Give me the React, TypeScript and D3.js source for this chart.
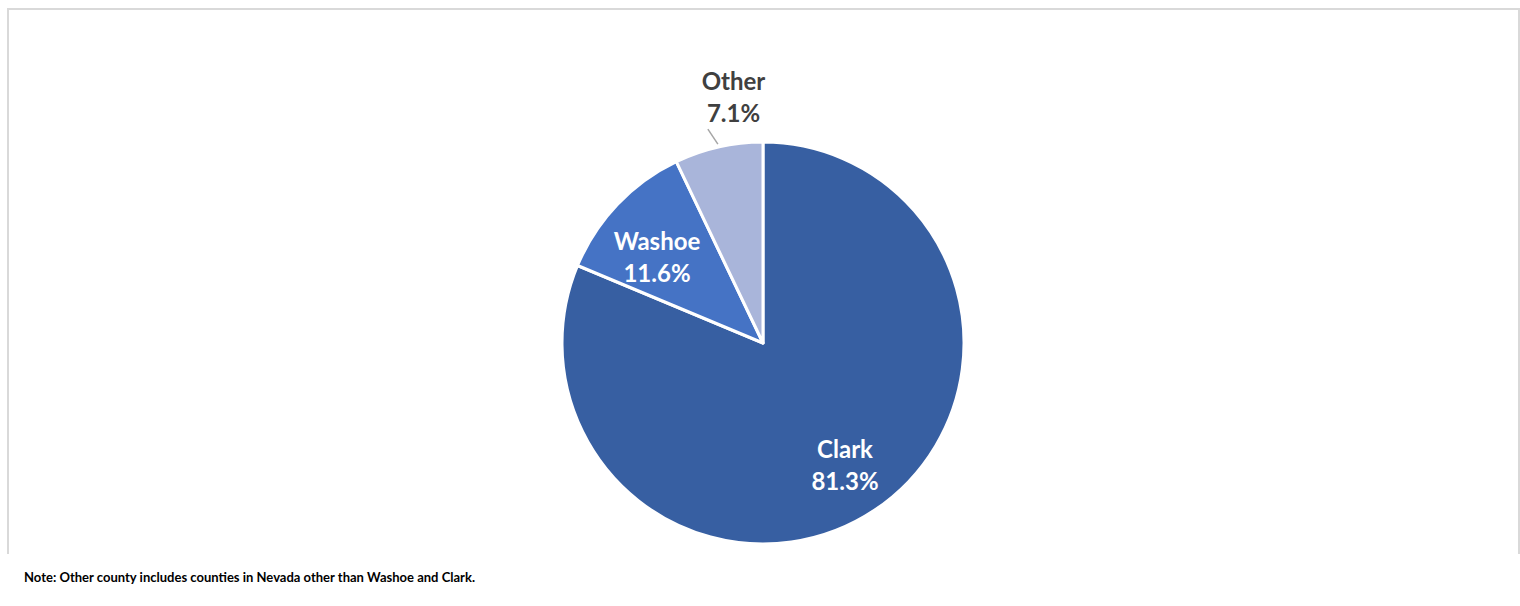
import React from "react";
import * as d3 from "d3";

const categories = ["Clark", "Washoe", "Other"];
const values = [81.3, 11.6, 7.1];
const colors = ["#375fa2", "#4573c5", "#a9b5da"];
const note = "Note: Other county includes counties in Nevada other than Washoe and Clark.";

const W = 1520;
const H = 606;
const cx = 763;
const cy = 343;
const R = 201;

export default function App() {
  const data = categories.map((c, i) => ({ name: c, value: values[i], color: colors[i] }));
  const pie = d3.pie<any>().value((d: any) => d.value).sort(null);
  const arcs = pie(data);
  const arc = d3.arc<any>().innerRadius(0).outerRadius(R);
  const labelR = [148, 138, 251];
  const shift = [[0, 0], [-6, 10], [26, 0]];
  const fmt = (v: number) => v.toFixed(1) + "%";

  return (
    <svg width={W} height={H} style={{ position: "absolute", left: 0, top: 0, background: "#fff" }}>
      <path d={`M8,554 L8,9 L1519,9 L1519,554`} fill="none" stroke="#d9d9d9" strokeWidth={2} />
      <g transform={`translate(${cx},${cy})`}>
        {arcs.map((a, i) => (
          <path key={i} d={arc(a) as string} fill={a.data.color} stroke="#fff" strokeWidth={3} strokeLinejoin="round" />
        ))}
        {arcs.map((a, i) => {
          const mid = (a.startAngle + a.endAngle) / 2;
          const x = Math.sin(mid) * labelR[i] + shift[i][0];
          const y = -Math.cos(mid) * labelR[i] + shift[i][1];
          const outside = i === 2;
          const fill = outside ? "#404040" : "#ffffff";
          const ex = Math.sin(mid) * (R + 3);
          const ey = -Math.cos(mid) * (R + 3);
          return (
            <g key={"l" + i}>
              {outside && (
                <line x1={ex} y1={ey} x2={ex - 10} y2={ey - 15} stroke="#a6a6a6" strokeWidth={1.5} />
              )}
              <text x={x} y={y - 8} textAnchor="middle" fontFamily="Lato, 'Open Sans', sans-serif" fontWeight="bold" fontSize={24} fill={fill}>
                {a.data.name}
              </text>
              <text x={x} y={y + 24} textAnchor="middle" fontFamily="Lato, 'Open Sans', sans-serif" fontWeight="bold" fontSize={24} fill={fill}>
                {fmt(a.data.value)}
              </text>
            </g>
          );
        })}
      </g>
      <text x={24} y={582} fontFamily="Lato, 'Open Sans', sans-serif" fontWeight="bold" fontSize={13.5} fill="#000" textLength={451} lengthAdjust="spacingAndGlyphs">
        {note}
      </text>
    </svg>
  );
}
